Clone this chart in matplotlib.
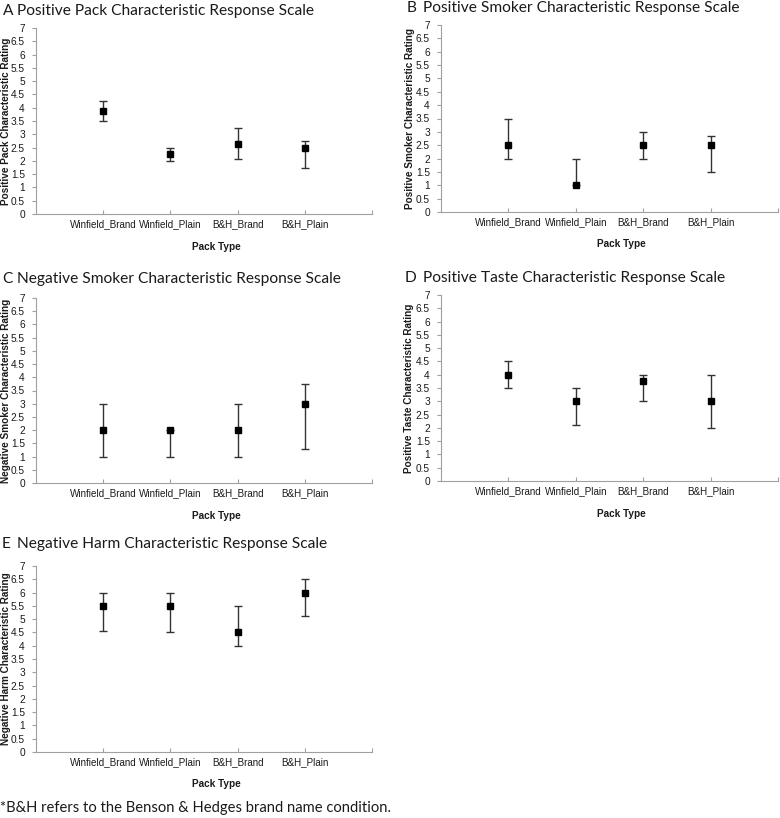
import matplotlib
matplotlib.use("Agg")
import matplotlib.pyplot as plt
from matplotlib.ticker import FormatStrFormatter, MultipleLocator

categories = ["Winfield_Brand", "Winfield_Plain", "B&H_Brand", "B&H_Plain"]

letters = ["A", "B", "C", "D", "E"]
titles = [
    "Positive Pack Characteristic Response Scale",
    "Positive Smoker Characteristic Response Scale",
    "Negative Smoker Characteristic Response Scale",
    "Positive Taste Characteristic Response Scale",
    "Negative Harm Characteristic Response Scale",
]
ylabels = [
    "Positive Pack Characteristic Rating",
    "Positive Smoker Characteristic Rating",
    "Negative Smoker Characteristic Rating",
    "Positive Taste Characteristic Rating",
    "Negative Harm Characteristic Rating",
]

mean_A = [3.88, 2.25, 2.63, 2.5]
low_A = [3.5, 2.0, 2.08, 1.75]
high_A = [4.25, 2.5, 3.25, 2.75]

mean_B = [2.5, 1.0, 2.5, 2.5]
low_B = [2.0, 1.0, 2.0, 1.5]
high_B = [3.5, 2.0, 3.0, 2.85]

mean_C = [2.0, 2.0, 2.0, 3.0]
low_C = [1.0, 1.0, 1.0, 1.27]
high_C = [3.0, 2.0, 3.0, 3.75]

mean_D = [4.0, 3.0, 3.75, 3.0]
low_D = [3.5, 2.12, 3.0, 2.0]
high_D = [4.5, 3.5, 4.0, 4.0]

mean_E = [5.5, 5.5, 4.5, 6.0]
low_E = [4.56, 4.5, 4.0, 5.13]
high_E = [6.0, 6.0, 5.5, 6.5]

means = [mean_A, mean_B, mean_C, mean_D, mean_E]
lows = [low_A, low_B, low_C, low_D, low_E]
highs = [high_A, high_B, high_C, high_D, high_E]

footnote = "*B&H refers to the Benson & Hedges brand name condition."

W, H = 780, 818
fig = plt.figure(figsize=(W / 100, H / 100), dpi=100)
fig.patch.set_facecolor("white")

# pixel layout: (left, right, top(y=7), bottom(y=0))
boxes = [
    (36, 372, 28, 214),
    (441, 778, 25, 212),
    (36, 372, 298, 483),
    (441, 778, 295, 481),
    (36, 372, 566, 752),
]
# title layout: (letter x, title x, y center)
title_pos = [
    (3, 17, 11),
    (407, 423, 8),
    (2, 17, 279),
    (405, 423, 278),
    (2, 17, 544),
]
xlabel_y = [247, 244, 516, 514, 784]
ylabel_x = [6, 410, 6, 409, 6]

title_font = "Lato"
tick_font = "Liberation Sans"
spine_col = "#a0a0a0"
txt_col = "#1a1a1a"

for i in range(5):
    l, r, t, b = boxes[i]
    ax = fig.add_axes([l / W, (H - b) / H, (r - l) / W, (b - t) / H])
    x = list(range(1, len(categories) + 1))
    m = means[i]
    lo = [mm - v for mm, v in zip(m, lows[i])]
    hi = [v - mm for mm, v in zip(m, highs[i])]
    ax.errorbar(x, m, yerr=[lo, hi], fmt="s", color="black", ms=5,
                ecolor="#333333", elinewidth=1.0, capsize=3.2, capthick=1.0,
                zorder=3)
    ax.set_xlim(0, 5)
    ax.set_ylim(0, 7)
    ax.yaxis.set_major_locator(MultipleLocator(0.5))
    ax.yaxis.set_major_formatter(FormatStrFormatter("%g"))
    ax.set_xticks(x)
    ax.set_xticklabels(categories, fontfamily=tick_font, fontsize=7.1)
    ax.set_xticks([5], minor=True)
    for s in ["top", "right"]:
        ax.spines[s].set_visible(False)
    for s in ["left", "bottom"]:
        ax.spines[s].set_color(spine_col)
        ax.spines[s].set_linewidth(0.8)
    ax.tick_params(axis="x", which="both", direction="in", length=3,
                   color=spine_col, width=0.8, pad=3.5, labelcolor=txt_col)
    ax.tick_params(axis="y", direction="out", length=3, color=spine_col,
                   width=0.8, pad=5, labelcolor=txt_col)
    for lab in ax.get_yticklabels():
        lab.set_fontfamily(tick_font)
        lab.set_fontsize(7.3)
    ax.set_ylabel(ylabels[i], fontfamily=tick_font, fontweight="bold",
                  fontsize=7.2, color=txt_col, va="center")
    ax.yaxis.set_label_coords((ylabel_x[i] - l) / (r - l), 0.5)
    ax.set_xlabel("Pack Type", fontfamily=tick_font, fontweight="bold",
                  fontsize=7.2, color=txt_col, va="center")
    ax.xaxis.set_label_coords(((l + r) / 2 + 12 - l) / (r - l),
                              (b - xlabel_y[i]) / (b - t))

    lx, tx, ty = title_pos[i]
    fig.text(lx / W, 1 - ty / H, letters[i], fontfamily=title_font,
             fontsize=11.2, va="center", ha="left", color="#1a1a1a")
    fig.text(tx / W, 1 - ty / H, titles[i], fontfamily=title_font,
             fontsize=11.2, va="center", ha="left", color="#1a1a1a")

fig.text(0 / W, 1 - 808 / H, footnote, fontfamily=title_font, fontsize=10.6,
         va="center", ha="left", color="#1a1a1a")

fig.savefig("out.png", dpi=100, facecolor="white")
